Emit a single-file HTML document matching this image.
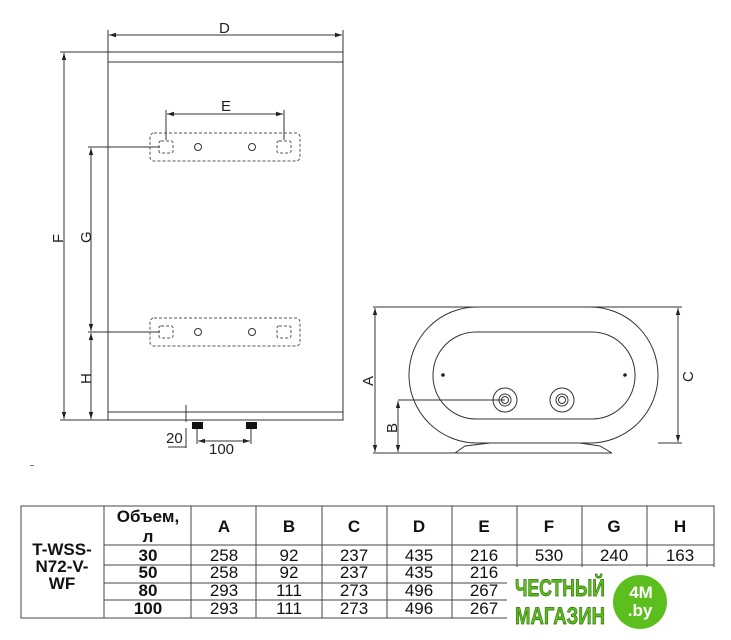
<!DOCTYPE html>
<html><head><meta charset="utf-8"><style>
body{margin:0;background:#fff;width:731px;height:640px;overflow:hidden}
svg{display:block}
text{font-family:"Liberation Sans","DejaVu Sans",sans-serif}
</style></head><body>
<svg width="731" height="640" viewBox="0 0 731 640" xmlns="http://www.w3.org/2000/svg">
<defs><marker id="a" markerWidth="8" markerHeight="6" refX="7" refY="3" orient="auto-start-reverse"><path d="M0,0.8 L7,3 L0,5.2z" fill="#222"/></marker></defs>
<g stroke="#333" stroke-width="1" fill="none">
<rect x="108" y="52" width="235" height="368"/>
<line x1="108" y1="62" x2="343" y2="62"/>
<line x1="108" y1="412" x2="343" y2="412"/>
<line x1="108" y1="30" x2="108" y2="52"/><line x1="343" y1="30" x2="343" y2="52"/>
<line x1="109" y1="35" x2="342" y2="35" marker-start="url(#a)" marker-end="url(#a)"/>
<line x1="60" y1="52" x2="108" y2="52"/><line x1="60" y1="420" x2="108" y2="420"/>
<line x1="64" y1="53" x2="64" y2="419" marker-start="url(#a)" marker-end="url(#a)"/>
<line x1="88" y1="147" x2="160" y2="147"/><line x1="88" y1="332" x2="160" y2="332"/>
<line x1="91" y1="148" x2="91" y2="331" marker-start="url(#a)" marker-end="url(#a)"/>
<line x1="91" y1="333" x2="91" y2="419" marker-start="url(#a)" marker-end="url(#a)"/>
<line x1="166" y1="110" x2="166" y2="140"/><line x1="284" y1="110" x2="284" y2="140"/>
<line x1="167" y1="114" x2="283" y2="114" marker-start="url(#a)" marker-end="url(#a)"/>
</g>
<g stroke="#555" stroke-width="1" fill="none" stroke-dasharray="3,2">
<rect x="150" y="133" width="150" height="28" rx="4"/>
<rect x="159" y="141" width="14" height="12" rx="2"/><rect x="277" y="141" width="14" height="12" rx="2"/>
<rect x="150" y="318" width="150" height="28" rx="4"/>
<rect x="159" y="326" width="14" height="12" rx="2"/><rect x="277" y="326" width="14" height="12" rx="2"/>
</g>
<g stroke="#333" fill="none">
<circle cx="198" cy="147" r="3.5"/><circle cx="252" cy="147" r="3.5"/>
<circle cx="198" cy="332" r="3.5"/><circle cx="252" cy="332" r="3.5"/>
<line x1="186" y1="405" x2="186" y2="422"/>
<line x1="168" y1="447" x2="186" y2="447"/>
<line x1="186" y1="428" x2="186" y2="448"/>
<line x1="197" y1="428" x2="197" y2="444"/><line x1="251" y1="428" x2="251" y2="444"/>
<line x1="198" y1="441" x2="250" y2="441" marker-start="url(#a)" marker-end="url(#a)"/>
</g>
<rect x="192" y="422" width="11" height="7" fill="#111"/>
<rect x="246" y="422" width="11" height="7" fill="#111"/>
<g font-size="15" fill="#222">
<text x="219" y="33">D</text>
<text x="221" y="111">E</text>
<text x="63" y="243" transform="rotate(-90 63 243)">F</text>
<text x="91" y="243" transform="rotate(-90 91 243)">G</text>
<text x="91" y="384" transform="rotate(-90 91 384)">H</text>
<text x="166" y="443">20</text>
<text x="209" y="454">100</text>
</g>
<g stroke="#333" fill="none">
<rect x="409" y="307" width="249" height="136" rx="68"/>
<rect x="433" y="332" width="202" height="87" rx="43"/>
<circle cx="505" cy="400" r="12"/><circle cx="505" cy="400" r="6"/><circle cx="505" cy="400" r="3.5"/>
<circle cx="562" cy="400" r="12"/><circle cx="562" cy="400" r="6"/><circle cx="562" cy="400" r="3.5"/>
<path d="M455,453 L465,446 L490,443 M580,443 L600,446 L612,453"/>
<line x1="373" y1="307" x2="682" y2="307"/>
<line x1="373" y1="453" x2="612" y2="453"/>
<line x1="658" y1="443" x2="682" y2="443"/>
<line x1="375" y1="308" x2="375" y2="452" marker-start="url(#a)" marker-end="url(#a)"/>
<line x1="678" y1="308" x2="678" y2="442" marker-start="url(#a)" marker-end="url(#a)"/>
<line x1="398" y1="400" x2="505" y2="400"/>
<line x1="398" y1="401" x2="398" y2="452" marker-start="url(#a)" marker-end="url(#a)"/>
</g>
<circle cx="443" cy="375" r="1.8" fill="#222"/><circle cx="625" cy="375" r="1.8" fill="#222"/>
<g font-size="15" fill="#222">
<text x="373" y="386" transform="rotate(-90 373 386)">A</text>
<text x="397" y="433" transform="rotate(-90 397 433)">B</text>
<text x="693" y="382" transform="rotate(-90 693 382)">C</text>
</g>
<g stroke="#444" stroke-width="1" fill="none">
<rect x="21" y="506" width="693" height="112"/>
<line x1="104" y1="506" x2="104" y2="618"/>
<line x1="191" y1="506" x2="191" y2="618"/><line x1="256" y1="506" x2="256" y2="618"/>
<line x1="322" y1="506" x2="322" y2="618"/><line x1="387" y1="506" x2="387" y2="618"/>
<line x1="452" y1="506" x2="452" y2="618"/><line x1="517" y1="506" x2="517" y2="618"/>
<line x1="582" y1="506" x2="582" y2="618"/><line x1="647" y1="506" x2="647" y2="618"/>
<line x1="104" y1="545" x2="714" y2="545"/><line x1="104" y1="565" x2="714" y2="565"/>
<line x1="104" y1="583" x2="714" y2="583"/><line x1="104" y1="600" x2="714" y2="600"/>
</g>
<g font-size="17" fill="#111" text-anchor="middle">
<g font-weight="bold">
<text x="62" y="555">T-WSS-</text><text x="62" y="572">N72-V-</text><text x="62" y="589">WF</text>
<text x="148" y="522">Объем,</text><text x="148" y="542">л</text>
<text x="224" y="532">A</text><text x="289" y="532">B</text><text x="354" y="532">C</text><text x="419" y="532">D</text><text x="484" y="532">E</text><text x="549" y="532">F</text><text x="614" y="532">G</text><text x="680" y="532">H</text>
<text x="148" y="561">30</text><text x="148" y="578">50</text><text x="148" y="596">80</text><text x="148" y="614">100</text>
</g>
<text x="224" y="561">258</text><text x="289" y="561">92</text><text x="354" y="561">237</text><text x="419" y="561">435</text><text x="484" y="561">216</text><text x="549" y="561">530</text><text x="614" y="561">240</text><text x="680" y="561">163</text>
<text x="224" y="578">258</text><text x="289" y="578">92</text><text x="354" y="578">237</text><text x="419" y="578">435</text><text x="484" y="578">216</text>
<text x="224" y="596">293</text><text x="289" y="596">111</text><text x="354" y="596">273</text><text x="419" y="596">496</text><text x="484" y="596">267</text>
<text x="224" y="614">293</text><text x="289" y="614">111</text><text x="354" y="614">273</text><text x="419" y="614">496</text><text x="484" y="614">267</text>
</g>
<rect x="507" y="567" width="224" height="73" fill="#fff"/>
<g font-weight="bold" font-size="24" fill="#5cbf1e" stroke="#2d6a0a" stroke-width="0.7" text-anchor="middle">
<text x="560" y="596" textLength="90" lengthAdjust="spacingAndGlyphs">ЧЕСТНЫЙ</text>
<text x="560" y="624" textLength="90" lengthAdjust="spacingAndGlyphs">МАГАЗИН</text>
</g>
<circle cx="640" cy="602" r="27" fill="#5cbf1e"/>
<g font-weight="bold" font-size="17" fill="#fff" text-anchor="middle">
<text x="641" y="598">4M</text><text x="640" y="616">.by</text>
</g>
<rect x="30" y="465" width="4" height="1" fill="#777"/>
</svg>
</body></html>
